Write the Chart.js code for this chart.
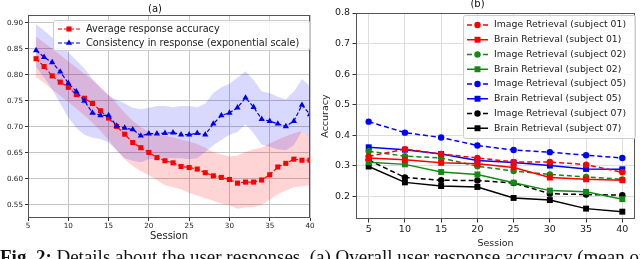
<!DOCTYPE html>
<html>
<head>
<meta charset="utf-8">
<script src="https://cdn.jsdelivr.net/npm/chart.js@4.4.1/dist/chart.umd.min.js"></script>
<style>
  html, body { margin: 0; padding: 0; background: #fff; width: 640px; height: 259px; overflow: hidden; }
  #wrap { position: relative; width: 640px; height: 259px; }
  canvas { position: absolute; top: 0; }
  #chartA { left: 0; }
  #chartB { left: 320px; }
  #caption {
    position: absolute; left: 0; top: 247px; width: 700px; white-space: nowrap;
    font-family: "Liberation Serif", "DejaVu Serif", serif; font-size: 19px; line-height: 19px; color: #111;
  }
</style>
</head>
<body>
<div id="wrap">
  <canvas id="chartA" width="320" height="259"></canvas>
  <canvas id="chartB" width="320" height="259"></canvas>
  <div id="caption"><b>Fig. 2:</b> Details about the user responses. (a) Overall user response accuracy (mean of</div>
</div>
<script>
// ================= DATA (a) =================
const sessionsA = [6, 7, 8, 9, 10, 11, 12, 13, 14, 15, 16, 17, 18, 19, 20, 21, 22, 23,
  24, 25, 26, 27, 28, 29, 30, 31, 32, 33, 34, 35, 36, 37, 38, 39, 40];

const accuracyMean = [0.831, 0.816, 0.798, 0.786, 0.776, 0.762, 0.755, 0.745, 0.731, 0.717,
  0.701, 0.686, 0.670, 0.660, 0.651, 0.641, 0.635, 0.631, 0.624, 0.622, 0.619, 0.612,
  0.606, 0.603, 0.599, 0.592, 0.594, 0.594, 0.598, 0.608, 0.623, 0.630, 0.638, 0.636, 0.636];
const accuracyHigh = [0.873, 0.862, 0.850, 0.838, 0.826, 0.814, 0.802, 0.790, 0.776, 0.762,
  0.745, 0.727, 0.712, 0.700, 0.690, 0.686, 0.683, 0.680, 0.676, 0.672, 0.667, 0.660,
  0.652, 0.647, 0.643, 0.645, 0.652, 0.657, 0.660, 0.668, 0.676, 0.682, 0.688, 0.692, 0.680];
const accuracyLow = [0.795, 0.785, 0.772, 0.760, 0.748, 0.735, 0.722, 0.708, 0.692, 0.675,
  0.655, 0.638, 0.625, 0.615, 0.607, 0.598, 0.588, 0.584, 0.580, 0.573, 0.568, 0.563,
  0.558, 0.553, 0.549, 0.543, 0.545, 0.546, 0.550, 0.560, 0.570, 0.578, 0.584, 0.586, 0.588];

const consistencyMean = [0.847, 0.834, 0.824, 0.806, 0.784, 0.768, 0.750, 0.727, 0.722, 0.722,
  0.702, 0.698, 0.695, 0.683, 0.687, 0.687, 0.688, 0.689, 0.685, 0.685, 0.688, 0.685,
  0.706, 0.722, 0.727, 0.737, 0.756, 0.738, 0.715, 0.711, 0.706, 0.701, 0.711, 0.742, 0.724];
const consistencyHigh = [0.897, 0.885, 0.872, 0.858, 0.843, 0.828, 0.812, 0.792, 0.775, 0.760,
  0.752, 0.745, 0.737, 0.734, 0.737, 0.740, 0.740, 0.738, 0.740, 0.740, 0.738, 0.745,
  0.765, 0.776, 0.783, 0.795, 0.807, 0.790, 0.768, 0.765, 0.758, 0.753, 0.768, 0.792, 0.778];
const consistencyLow = [0.815, 0.795, 0.772, 0.745, 0.718, 0.698, 0.685, 0.679, 0.677, 0.670,
  0.655, 0.640, 0.635, 0.632, 0.638, 0.640, 0.640, 0.640, 0.640, 0.638, 0.640, 0.652,
  0.665, 0.675, 0.685, 0.690, 0.705, 0.688, 0.666, 0.662, 0.657, 0.655, 0.665, 0.692, 0.679];

const xTicksA = [5, 10, 15, 20, 25, 30, 35, 40];
const yTicksA = [0.55, 0.60, 0.65, 0.70, 0.75, 0.80, 0.85, 0.90];

// ================= DATA (b) =================
const sessionsB = [5, 10, 15, 20, 25, 30, 35, 40];
const imageSub01 = [0.330, 0.354, 0.338, 0.325, 0.312, 0.312, 0.303, 0.278];
const brainSub01 = [0.325, 0.319, 0.309, 0.306, 0.294, 0.261, 0.255, 0.252];
const imageSub02 = [0.347, 0.331, 0.325, 0.298, 0.282, 0.271, 0.263, 0.255];
const brainSub02 = [0.311, 0.304, 0.279, 0.271, 0.244, 0.218, 0.214, 0.190];
const imageSub05 = [0.444, 0.408, 0.392, 0.366, 0.351, 0.344, 0.334, 0.325];
const brainSub05 = [0.360, 0.352, 0.338, 0.317, 0.310, 0.300, 0.289, 0.288];
const imageSub07 = [0.318, 0.261, 0.252, 0.251, 0.243, 0.208, 0.205, 0.203];
const brainSub07 = [0.297, 0.245, 0.233, 0.230, 0.194, 0.187, 0.159, 0.149];

const xTicksB = [5, 10, 15, 20, 25, 30, 35, 40];
const yTicksB = [0.2, 0.3, 0.4, 0.5, 0.6, 0.7, 0.8];

// ================= HELPERS =================
const FONT = "'DejaVu Sans', sans-serif";

function pts(xs, ys) {
  return xs.map((x, i) => ({ x: x, y: ys[i] }));
}

function marker(ctx, style, r, x, y, color) {
  ctx.save();
  ctx.setLineDash([]);
  ctx.fillStyle = color;
  ctx.beginPath();
  if (style === "rect") {
    const s = r * Math.SQRT1_2;
    ctx.rect(x - s, y - s, 2 * s, 2 * s);
  } else if (style === "triangle") {
    ctx.moveTo(x, y - r);
    ctx.lineTo(x + r * 0.87, y + r * 0.5);
    ctx.lineTo(x - r * 0.87, y + r * 0.5);
    ctx.closePath();
  } else {
    ctx.arc(x, y, r, 0, Math.PI * 2);
  }
  ctx.fill();
  ctx.restore();
}

// frame round the plot, like matplotlib spines
const framePlugin = {
  id: "frame",
  afterDatasetsDraw(chart, args, opts) {
    const a = chart.chartArea;
    const ctx = chart.ctx;
    ctx.save();
    ctx.strokeStyle = opts.color || "#444";
    ctx.lineWidth = 1;
    ctx.strokeRect(Math.round(a.left) + 0.5, Math.round(a.top) + 0.5,
      Math.round(a.right - a.left) - 1, Math.round(a.bottom - a.top) - 1);
    ctx.restore();
  }
};

// legend in a box, like matplotlib
const boxLegend = {
  id: "boxLegend",
  afterDraw(chart, args, o) {
    const ctx = chart.ctx;
    const items = chart.data.datasets.filter(d => d.inLegend);
    ctx.save();
    ctx.fillStyle = "rgba(255,255,255,0.85)";
    ctx.strokeStyle = "#cccccc";
    ctx.lineWidth = 1;
    ctx.beginPath();
    ctx.roundRect(o.x + 0.5, o.y + 0.5, o.w, o.h, 2);
    ctx.fill();
    ctx.stroke();

    ctx.font = o.fontSize + "px " + FONT;
    ctx.textBaseline = "middle";
    ctx.textAlign = "left";
    items.forEach((d, i) => {
      const y = o.firstRow + i * o.rowGap;
      ctx.strokeStyle = d.borderColor;
      ctx.lineWidth = d.borderWidth;
      ctx.setLineDash(d.borderDash || []);
      ctx.beginPath();
      ctx.moveTo(o.lineX0, y);
      ctx.lineTo(o.lineX1, y);
      ctx.stroke();
      marker(ctx, d.pointStyle, d.pointRadius, (o.lineX0 + o.lineX1) / 2, y, d.borderColor);
      ctx.fillStyle = "#222";
      ctx.fillText(d.label, o.textX, y);
    });
    ctx.restore();
  }
};

// ================= CHART (a) =================
new Chart(document.getElementById("chartA"), {
  type: "line",
  data: {
    datasets: [
      {
        label: "Average response accuracy",
        data: pts(sessionsA, accuracyMean),
        borderColor: "#ff0000", backgroundColor: "#ff0000",
        borderWidth: 1.2, borderDash: [4, 2],
        pointStyle: "rect", pointRadius: 3.6, pointBorderWidth: 0,
        fill: false, order: 1, inLegend: true
      },
      {
        label: "Consistency in response (exponential scale)",
        data: pts(sessionsA, consistencyMean),
        borderColor: "#0000ee", backgroundColor: "#0000ee",
        borderWidth: 1.2, borderDash: [4, 2],
        pointStyle: "triangle", pointRadius: 3.6, pointBorderWidth: 0,
        fill: false, order: 0, inLegend: true
      },
      {
        label: "accuracy high",
        data: pts(sessionsA, accuracyHigh),
        borderWidth: 0, pointRadius: 0,
        backgroundColor: "rgba(255,0,0,0.17)",
        fill: "+1", order: 3
      },
      {
        label: "accuracy low",
        data: pts(sessionsA, accuracyLow),
        borderWidth: 0, pointRadius: 0, fill: false, order: 3
      },
      {
        label: "consistency high",
        data: pts(sessionsA, consistencyHigh),
        borderWidth: 0, pointRadius: 0,
        backgroundColor: "rgba(0,0,255,0.15)",
        fill: "+1", order: 2
      },
      {
        label: "consistency low",
        data: pts(sessionsA, consistencyLow),
        borderWidth: 0, pointRadius: 0, fill: false, order: 2
      }
    ]
  },
  options: {
    responsive: false,
    animation: false,
    devicePixelRatio: 1,
    layout: { padding: { left: 0, right: 10, top: 0, bottom: 0 } },
    plugins: {
      legend: { display: false },
      tooltip: { enabled: false },
      title: {
        display: true, text: "(a)", color: "#111",
        font: { family: FONT, size: 10, weight: "normal" },
        padding: { top: 3, bottom: 0 }
      },
      frame: { color: "#555" },
      boxLegend: {
        x: 53, y: 20, w: 256, h: 30,
        firstRow: 29, rowGap: 14,
        lineX0: 58, lineX1: 80, textX: 86, fontSize: 9.7
      }
    },
    scales: {
      x: {
        type: "linear", min: 5, max: 40,
        afterBuildTicks: s => { s.ticks = xTicksA.map(v => ({ value: v })); },
        afterFit: s => { s.height = 41; },
        grid: { color: "#c4c4c4", tickColor: "#333", tickLength: 3 },
        border: { display: false },
        ticks: { color: "#222", padding: 1, font: { family: FONT, size: 7.2 }, callback: v => v },
        title: {
          display: true, text: "Session", color: "#222",
          font: { family: FONT, size: 10 }, padding: { top: 0, bottom: 17 }
        }
      },
      y: {
        type: "linear", min: 0.525, max: 0.915,
        afterBuildTicks: s => { s.ticks = yTicksA.map(v => ({ value: v })); },
        afterFit: s => { s.width = 28; },
        grid: { color: "#c4c4c4", tickColor: "#333", tickLength: 3 },
        border: { display: false },
        ticks: { color: "#222", padding: 2, font: { family: FONT, size: 7.2 }, callback: v => v.toFixed(2) }
      }
    }
  },
  plugins: [framePlugin, boxLegend]
});

// ================= CHART (b) =================
function seriesB(label, values, color, dashed) {
  return {
    label: label,
    data: pts(sessionsB, values),
    borderColor: color, backgroundColor: color,
    borderWidth: 1.5, borderDash: dashed ? [5, 3] : [],
    pointStyle: dashed ? "circle" : "rect",
    pointRadius: dashed ? 3.2 : 4.2, pointBorderWidth: 0,
    fill: false, inLegend: true
  };
}

const GREEN = "#138a13";

new Chart(document.getElementById("chartB"), {
  type: "line",
  data: {
    datasets: [
      seriesB("Image Retrieval (subject 01)", imageSub01, "#ff0000", true),
      seriesB("Brain Retrieval (subject 01)", brainSub01, "#ff0000", false),
      seriesB("Image Retrieval (subject 02)", imageSub02, GREEN, true),
      seriesB("Brain Retrieval (subject 02)", brainSub02, GREEN, false),
      seriesB("Image Retrieval (subject 05)", imageSub05, "#0000ff", true),
      seriesB("Brain Retrieval (subject 05)", brainSub05, "#0000ff", false),
      seriesB("Image Retrieval (subject 07)", imageSub07, "#000000", true),
      seriesB("Brain Retrieval (subject 07)", brainSub07, "#000000", false)
    ]
  },
  options: {
    responsive: false,
    animation: false,
    devicePixelRatio: 1,
    layout: { padding: { left: 0, right: 5, top: 0, bottom: 0 } },
    plugins: {
      legend: { display: false },
      tooltip: { enabled: false },
      title: {
        display: true, text: "(b)", color: "#111",
        font: { family: FONT, size: 10, weight: "normal" },
        padding: { top: -2, bottom: 3 }
      },
      frame: { color: "#555" },
      boxLegend: {
        x: 143, y: 15, w: 172, h: 123,
        firstRow: 25, rowGap: 14.75,
        lineX0: 147, lineX1: 168, textX: 174, fontSize: 9.3
      }
    },
    scales: {
      x: {
        type: "linear", min: 3.25, max: 41.75,
        afterBuildTicks: s => { s.ticks = xTicksB.map(v => ({ value: v })); },
        afterFit: s => { s.height = 40; },
        grid: { color: "#dddddd", tickColor: "#333", tickLength: 3.5 },
        border: { display: false },
        ticks: { color: "#222", padding: 1, font: { family: FONT, size: 9.5 }, callback: v => v },
        title: {
          display: true, text: "Session", color: "#222",
          font: { family: FONT, size: 9.5 }, padding: { top: 0, bottom: 10 }
        }
      },
      y: {
        type: "linear", min: 0.125, max: 0.8,
        afterBuildTicks: s => { s.ticks = yTicksB.map(v => ({ value: v })); },
        afterFit: s => { s.width = 36; },
        grid: { color: "#dddddd", tickColor: "#333", tickLength: 3.5 },
        border: { display: false },
        ticks: { color: "#222", padding: 2.5, font: { family: FONT, size: 9.5 }, callback: v => v.toFixed(1) },
        title: {
          display: true, text: "Accuracy", color: "#222",
          font: { family: FONT, size: 9.5 }, padding: 0
        }
      }
    }
  },
  plugins: [framePlugin, boxLegend]
});
</script>
</body>
</html>
